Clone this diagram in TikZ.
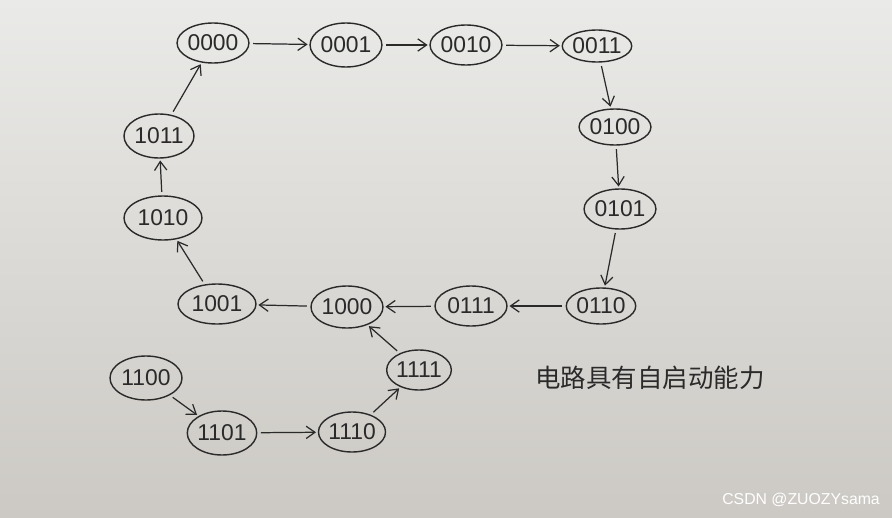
\documentclass[tikz,border=0pt]{standalone}
\usepackage{fontspec}
\setmainfont{Liberation Sans}
\newfontfamily\cjk{Noto Sans CJK SC}
\usetikzlibrary{shapes.geometric,arrows.meta}
\definecolor{inkc}{HTML}{2A2A2A}
\definecolor{paperA}{HTML}{EAEAE8}
\definecolor{paperB}{HTML}{CCC9C4}
\tikzset{
  st/.style={ellipse,draw=inkc,line width=0.8pt,inner sep=0pt,font=\fontsize{13}{13}\selectfont,text=inkc},
  tr/.style={-{Straight Barb[length=5pt,width=7pt]},draw=inkc,line width=0.7pt,shorten <=2pt,shorten >=1pt},
}
\begin{document}
\begin{tikzpicture}[x=0.02cm,y=-0.02cm]
\useasboundingbox (0,0) rectangle (892,517);
\shade[shading angle=200,top color=paperA,bottom color=paperB] (0,0) rectangle (892,517);
\node[st,minimum width=1.40cm,minimum height=0.80cm] (a0) at (213,43) {0000};
\node[st,minimum width=1.28cm,minimum height=0.88cm] (a1) at (346,45) {0001};
\node[st,minimum width=1.24cm,minimum height=0.80cm] (a2) at (466,45) {0010};
\node[st,minimum width=1.06cm,minimum height=0.64cm] (a3) at (597,46) {0011};
\node[st,minimum width=1.40cm,minimum height=0.72cm] (a4) at (615,127) {0100};
\node[st,minimum width=1.32cm,minimum height=0.80cm] (a5) at (620,209) {0101};
\node[st,minimum width=1.24cm,minimum height=0.72cm] (a6) at (601,306) {0110};
\node[st,minimum width=1.44cm,minimum height=0.80cm] (a7) at (471,306) {0111};
\node[st,minimum width=1.44cm,minimum height=0.84cm] (a8) at (347,307) {1000};
\node[st,minimum width=1.56cm,minimum height=0.80cm] (a9) at (217,304) {1001};
\node[st,minimum width=1.56cm,minimum height=0.88cm] (a10) at (163,218) {1010};
\node[st,minimum width=1.40cm,minimum height=0.88cm] (a11) at (159,136) {1011};
\node[st,minimum width=1.44cm,minimum height=0.88cm] (a12) at (146,378) {1100};
\node[st,minimum width=1.28cm,minimum height=0.88cm] (a13) at (222,433) {1101};
\node[st,minimum width=1.30cm,minimum height=0.80cm] (a14) at (352,432) {1110};
\node[st,minimum width=1.28cm,minimum height=0.80cm] (a15) at (419,370) {1111};
\draw[tr] (a0) -- (a1);
\draw[tr] (a1) -- (a2);
\draw[tr] (a2) -- (a3);
\draw[tr] (a3) -- (a4);
\draw[tr] (a4) -- (a5);
\draw[tr] (a5) -- (a6);
\draw[tr] (a6) -- (a7);
\draw[tr] (a7) -- (a8);
\draw[tr] (a8) -- (a9);
\draw[tr] (a9) -- (a10);
\draw[tr] (a10) -- (a11);
\draw[tr] (a11) -- (a0);
\draw[tr] (a12) -- (a13);
\draw[tr] (a13) -- (a14);
\draw[tr] (a14) -- (a15);
\draw[tr] (a15) -- (a8);
\node[text=inkc,font=\cjk\fontsize{14.5}{14.5}\selectfont] (lbl) at (650,378) {电路具有自启动能力};
\node[text=white,font=\fontsize{9}{9}\selectfont,anchor=east] (wm) at (886,500) {CSDN @ZUOZYsama};
\end{tikzpicture}
\end{document}
